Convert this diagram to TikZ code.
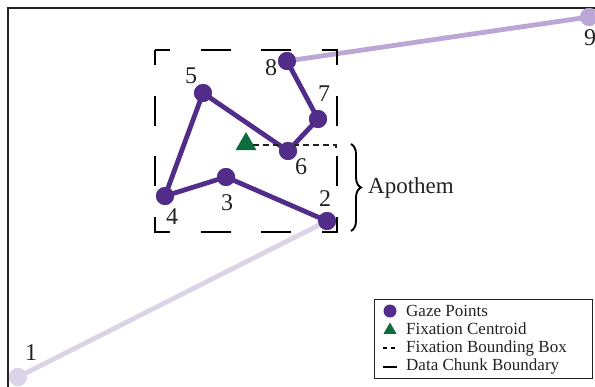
\documentclass[tikz,border=0pt]{standalone}
\usepackage{fontspec}
\setmainfont{Liberation Serif}
\usetikzlibrary{decorations.pathreplacing,shapes.geometric,positioning}
\definecolor{gazedark}{HTML}{512C88}
\definecolor{gazemid}{HTML}{BBA7D5}
\definecolor{gazelight}{HTML}{DCD3E9}
\definecolor{centroid}{HTML}{0E6B3B}
\definecolor{ink}{HTML}{222222}
\tikzset{
  gaze/.style={
    circle,
    fill=gazedark,
    inner sep=0pt,
    minimum size=18pt
  },
  gazeout/.style={gaze, fill=gazemid},
  gazefar/.style={gaze, fill=gazelight},
  scanpath/.style={
    draw=gazedark,
    line width=4.8pt,
    line join=round
  },
  ptlabel/.style={
    font=\fontsize{24}{24}\selectfont,
    text=ink,
    inner sep=0pt
  },
  centroidmark/.style={
    regular polygon,
    regular polygon sides=3,
    fill=centroid,
    inner sep=0pt,
    minimum size=24pt
  },
  chunkbox/.style={
    draw=black,
    line width=2.5pt,
    dash pattern=on 30pt off 30.67pt,
    dash phase=15pt
  },
  fixbox/.style={
    draw=ink,
    line width=1.1pt,
    dash pattern=on 6pt off 4pt
  },
  legendtext/.style={
    font=\fontsize{17}{17}\selectfont,
    text=ink,
    anchor=west,
    inner sep=0pt
  }
}
\begin{document}
\begin{tikzpicture}[x=1pt, y=-1pt]
  \useasboundingbox (0,0) rectangle (595,386);
  \clip (0,0) rectangle (595,386);

  % outer frame
  \draw[ink, line width=2pt] (8,420) -- (8,8) -- (640,8);

  % gaze points
  \node[gazefar] (p1) at (18,377) {};
  \node[gaze] (p2) at (327,221) {};
  \node[gaze] (p3) at (226,177) {};
  \node[gaze] (p4) at (165,196) {};
  \node[gaze] (p5) at (203,93) {};
  \node[gaze] (p6) at (288,151) {};
  \node[gaze] (p7) at (318,119) {};
  \node[gaze] (p8) at (287,61) {};
  \node[gazeout] (p9) at (589,17) {};

  \draw[scanpath, draw=gazelight] (p1.center) -- (p2.center);
  \draw[scanpath, draw=gazemid] (p8.center) -- (p9.center);
  \draw[scanpath] (p2.center) -- (p3.center) -- (p4.center) -- (p5.center)
    -- (p6.center) -- (p7.center) -- (p8.center);

  % data chunk boundary
  \coordinate (chunknw) at (155,50);
  \coordinate (chunkse) at (337,232);
  \draw[chunkbox] (chunknw) rectangle (chunkse);

  % fixation centroid and bounding box
  \node[centroidmark] (cent) at (246,144) {};
  \coordinate (fixne) at (336,145);
  \draw[fixbox] (cent.east |- fixne) -- (fixne) -- ++(0,4);

  % redraw points above the lines
  \foreach \p/\s in {p1/gazefar, p2/gaze, p3/gaze, p4/gaze, p5/gaze, p6/gaze, p7/gaze, p8/gaze, p9/gazeout}
    \node[\s] at (\p) {};

  % point labels
  \node[ptlabel] (l1) at (31,353) {1};
  \node[ptlabel] (l2) at (325,199) {2};
  \node[ptlabel] (l3) at (227,203) {3};
  \node[ptlabel] (l4) at (172,217) {4};
  \node[ptlabel] (l5) at (191,76) {5};
  \node[ptlabel] (l6) at (301,167) {6};
  \node[ptlabel] (l7) at (324,94) {7};
  \node[ptlabel] (l8) at (271,68) {8};
  \node[ptlabel] (l9) at (590,38) {9};

  % apothem brace
  \coordinate (bracetop) at (351,144);
  \coordinate (bracebot) at (351,231);
  \draw[black, line width=1.9pt, decorate, decoration={brace, amplitude=10pt}]
    (bracetop) -- (bracebot);
  \node[legendtext, font=\fontsize{23}{23}\selectfont] (apothem) at (368,188) {Apothem};

  % legend
  \node[draw=ink, line width=1pt, fill=white, minimum width=218pt, minimum height=79pt,
    inner sep=0pt] (legend) at (483,338.5) {};
  \node[gaze, minimum size=13pt] (leggaze) at (390,311) {};
  \node[centroidmark, minimum size=15pt] (legcent) at (390,330) {};
  \coordinate (legfixa) at (383,348);
  \coordinate (legfixb) at (397,348);
  \draw[black, line width=2.5pt, dash pattern=on 4pt off 4pt] (legfixa) -- (legfixb);
  \coordinate (legchunka) at (383,367);
  \coordinate (legchunkb) at (397,367);
  \draw[black, line width=2.5pt] (legchunka) -- (legchunkb);
  \node[legendtext] (tgaze) at (406,311) {Gaze Points};
  \node[legendtext] (tcent) at (406,329) {Fixation Centroid};
  \node[legendtext] (tfix) at (406,348) {Fixation Bounding Box};
  \node[legendtext] (tchunk) at (406,366) {Data Chunk Boundary};
\end{tikzpicture}
\end{document}
